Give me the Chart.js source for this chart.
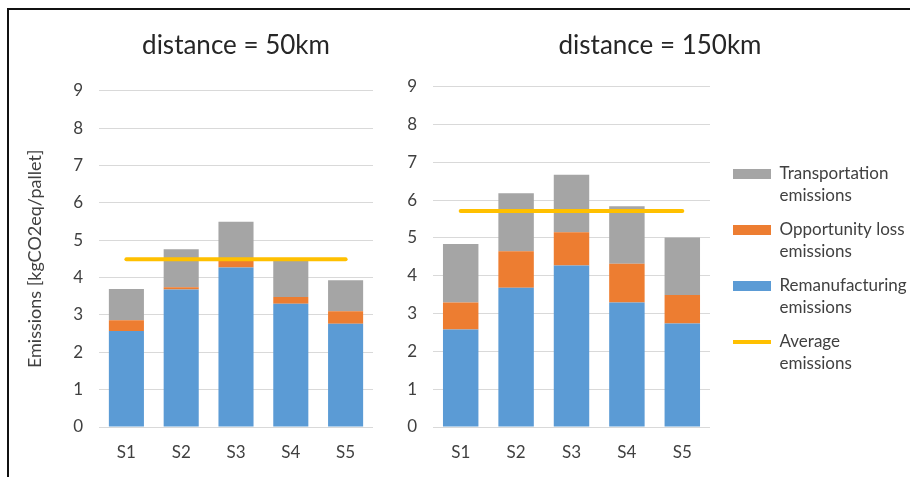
<!DOCTYPE html>
<html>
<head>
<meta charset="utf-8">
<script src="https://cdn.jsdelivr.net/npm/chart.js@4"></script>
<style>
  body { margin: 0; background: #fff; }
  #wrap { position: relative; width: 910px; height: 477px; overflow: hidden; }
  #frame { position: absolute; left: 7px; top: 8px; right: -5px; bottom: -5px; border-top: 2px solid #111; border-left: 2px solid #111; }
  #c1 { position: absolute; left: 0; top: 0; }
  #c2 { position: absolute; left: 380px; top: 0; }
</style>
</head>
<body>
<div id="wrap">
  <div id="frame"></div>
  <canvas id="c1" width="380" height="477"></canvas>
  <canvas id="c2" width="560" height="477"></canvas>
</div>
<script>
// values
var scenarios = ['S1', 'S2', 'S3', 'S4', 'S5'];
var yTicks = [0, 1, 2, 3, 4, 5, 6, 7, 8, 9];

var reman50 = [2.57, 3.68, 4.27, 3.30, 2.76];
var opp50 = [0.29, 0.06, 0.18, 0.18, 0.34];
var trans50 = [0.83, 1.02, 1.04, 0.99, 0.83];
var avg50 = [4.49, 4.49, 4.49, 4.49, 4.49];

var reman150 = [2.58, 3.68, 4.27, 3.29, 2.74];
var opp150 = [0.71, 0.97, 0.88, 1.03, 0.75];
var trans150 = [1.55, 1.53, 1.52, 1.52, 1.52];
var avg150 = [5.71, 5.71, 5.71, 5.71, 5.71];

var BLUE = '#5B9BD5', ORANGE = '#ED7D31', GREY = '#A5A5A5', GOLD = '#FFC000';
var FONT = 'Lato';
var TXT = '#404040';

function makeDatasets(reman, opp, trans, avg) {
  return [
    { type: 'line', label: ['Average', 'emissions'], data: avg, borderColor: GOLD, backgroundColor: GOLD,
      borderWidth: 4, borderCapStyle: 'round', pointRadius: 0, pointHoverRadius: 0, stack: 'avg', order: 0 },
    { label: ['Remanufacturing', 'emissions'], data: reman, backgroundColor: BLUE, stack: 'em', order: 1 },
    { label: ['Opportunity loss', 'emissions'], data: opp, backgroundColor: ORANGE, stack: 'em', order: 1 },
    { label: ['Transportation', 'emissions'], data: trans, backgroundColor: GREY, stack: 'em', order: 1 }
  ];
}

function makeScales(yWidth, yTitle) {
  return {
    x: {
      stacked: true,
      grid: { display: false },
      border: { display: false },
      ticks: { color: TXT, font: { family: FONT, size: 17 }, padding: 7 },
      afterFit: function (s) { s.height = 50; }
    },
    y: {
      stacked: true,
      min: 0,
      max: 9,
      afterBuildTicks: function (s) { s.ticks = yTicks.map(function (v) { return { value: v }; }); },
      grid: { color: '#D9D9D9', lineWidth: 1, drawTicks: false },
      border: { display: false },
      ticks: { color: TXT, font: { family: FONT, size: 17 }, padding: 16 },
      title: yTitle ? { display: true, text: yTitle, color: TXT, font: { family: FONT, size: 18 }, padding: { top: 24, bottom: 0 } } : { display: false },
      afterFit: function (s) { s.width = yWidth; }
    }
  };
}

var barOpts = { barPercentage: 0.64, categoryPercentage: 1 };

new Chart(document.getElementById('c1'), {
  type: 'bar',
  data: { labels: scenarios, datasets: makeDatasets(reman50, opp50, trans50, avg50) },
  options: {
    responsive: false,
    animation: false,
    datasets: { bar: barOpts },
    layout: { padding: { left: 0, right: 7, top: 0, bottom: 0 } },
    scales: makeScales(99, 'Emissions [kgCO2eq/pallet]'),
    plugins: {
      legend: { display: false },
      tooltip: { enabled: false },
      title: { display: true, fullSize: false, text: 'distance = 50km', color: '#262626',
        font: { family: FONT, size: 26, weight: 'normal' }, padding: { top: 30, bottom: 29.5 } }
    }
  }
});

// legend order as in the picture
var legendOrder = [3, 2, 1, 0];

var legendPlace = {
  id: 'legendPlace',
  afterInit: function (chart) {
    var fit = chart.legend.fit;
    chart.legend.fit = function () { fit.call(this); this.width = 230; };
  },
  afterLayout: function (chart) {
    var lg = chart.legend;
    lg.left += 11; lg.right += 11;
    lg.top += 153.5; lg.bottom += 153.5;
  }
};

new Chart(document.getElementById('c2'), {
  type: 'bar',
  data: { labels: scenarios, datasets: makeDatasets(reman150, opp150, trans150, avg150) },
  options: {
    responsive: false,
    animation: false,
    datasets: { bar: barOpts },
    layout: { padding: 0 },
    scales: makeScales(53, null),
    plugins: {
      tooltip: { enabled: false },
      title: { display: true, text: 'distance = 150km', color: '#262626',
        font: { family: FONT, size: 26, weight: 'normal' }, padding: { top: 30, bottom: 25.5 } },
      legend: {
        position: 'right',
        align: 'start',
        labels: {
          color: TXT,
          font: { family: FONT, size: 17, lineHeight: 22 / 17 },
          padding: 12,
          usePointStyle: true,
          pointStyleWidth: 38,
          boxHeight: 10,
          generateLabels: function (chart) {
            return legendOrder.map(function (i) {
              var ds = chart.data.datasets[i];
              var isLine = ds.type === 'line';
              return {
                text: ds.label,
                fillStyle: ds.backgroundColor,
                strokeStyle: isLine ? ds.borderColor : ds.backgroundColor,
                lineWidth: isLine ? 4 : 0,
                pointStyle: isLine ? 'line' : 'rect',
                fontColor: TXT,
                hidden: false,
                datasetIndex: i
              };
            });
          }
        }
      }
    }
  },
  plugins: [legendPlace]
});
</script>
</body>
</html>
